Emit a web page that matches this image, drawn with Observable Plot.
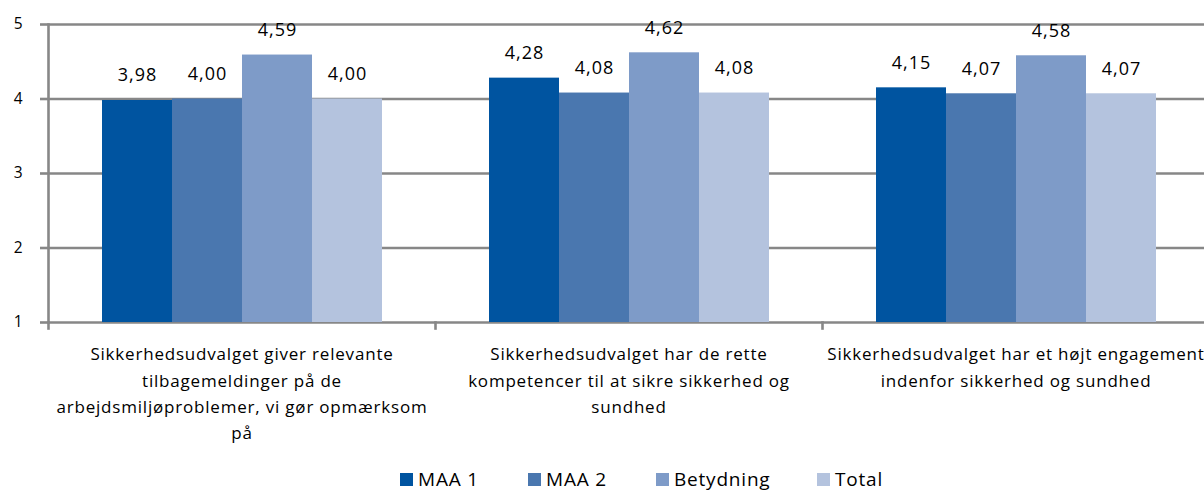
<!DOCTYPE html>
<html><head><meta charset="utf-8">
<script src="https://cdn.jsdelivr.net/npm/d3@7"></script>
<script src="https://cdn.jsdelivr.net/npm/@observablehq/plot@0.6"></script>
<style>
body{margin:0;background:#fff;font-family:"Open Sans",sans-serif;overflow:hidden;}
#chart svg{overflow:visible;}
#chart g[aria-label="fx-axis tick label"] text{letter-spacing:0.8px;}
#chart g[aria-label="text"] text{letter-spacing:1px;}
#legend{display:flex;align-items:center;padding-left:400px;height:48px;font-size:19px;color:#000;letter-spacing:0.8px;}
.item{display:flex;align-items:center;}
.sw{width:13px;height:13px;margin-right:5px;flex:none;}
</style></head><body>
<div id="chart"></div><div id="legend"></div>
<script>
const categories = [
  "Sikkerhedsudvalget giver relevante tilbagemeldinger på de arbejdsmiljøproblemer, vi gør opmærksom på",
  "Sikkerhedsudvalget har de rette kompetencer til at sikre sikkerhed og sundhed",
  "Sikkerhedsudvalget har et højt engagement indenfor sikkerhed og sundhed"
];
const categoryLabels = [
  "Sikkerhedsudvalget giver relevante\ntilbagemeldinger på de\narbejdsmiljøproblemer, vi gør opmærksom\npå",
  "Sikkerhedsudvalget har de rette\nkompetencer til at sikre sikkerhed og\nsundhed",
  "Sikkerhedsudvalget har et højt engagement\nindenfor sikkerhed og sundhed"
];
const series = ["MAA 1", "MAA 2", "Betydning", "Total"];
const maa1 = [3.98, 4.28, 4.15];
const maa2 = [4.00, 4.08, 4.07];
const betydning = [4.59, 4.62, 4.58];
const total = [4.00, 4.08, 4.07];
const yTicks = [1, 2, 3, 4, 5];
const colors = ["#0054a0", "#4a77af", "#7e9bc8", "#b4c3de"];

const valuesBySeries = [maa1, maa2, betydning, total];
const rows = [];
categories.forEach((c, i) => series.forEach((s, j) => rows.push({category: c, series: s, value: valuesBySeries[j][i]})));
const fmt = v => d3.format(".2f")(v).replace(".", ",");
const labelOf = c => categoryLabels[categories.indexOf(c)];
const gridColor = "#878787";

const chart = Plot.plot({
  width: 1204, height: 455,
  marginTop: 24, marginBottom: 133, marginLeft: 48, marginRight: 0,
  fx: {domain: categories, range: [48, 1209], paddingInner: 0, paddingOuter: 0, label: null},
  x: {domain: series, paddingInner: 0, paddingOuter: 0.745, axis: null},
  y: {domain: [1, 5], range: [322, 24], label: null},
  color: {domain: series, range: colors},
  style: {fontFamily: "'Open Sans', sans-serif", color: "#000", background: "#fff"},
  marks: [
    Plot.gridY(yTicks, {stroke: gridColor, strokeOpacity: 1, strokeWidth: 2.6}),
    Plot.barY(rows, {fx: "category", x: "series", y1: 1, y2: "value", fill: "series", inset: 0}),
    Plot.text(rows, {fx: "category", x: "series", y: "value", text: d => fmt(d.value), dy: -25, fontSize: 18, fill: "#000"}),
    Plot.frame({anchor: "left", facetAnchor: "left", stroke: gridColor, strokeWidth: 2.6}),
    Plot.frame({anchor: "left", stroke: gridColor, strokeWidth: 2.6, insetTop: 298, insetBottom: -6}),
    Plot.axisY(yTicks, {tickSize: 8, tickPadding: 18, fontSize: 15.5, stroke: gridColor, strokeWidth: 2.6, tickFormat: d => String(d), label: null}),
    Plot.axisFx({anchor: "bottom", tickSize: 0, tickPadding: 19, fontSize: 17, lineHeight: 1.55, tickFormat: labelOf, label: null})
  ]
});
document.getElementById("chart").appendChild(chart);

const widths = [128, 128, 161, null];
const legend = document.getElementById("legend");
series.forEach((s, i) => {
  const item = document.createElement("div");
  item.className = "item";
  if (widths[i]) item.style.width = widths[i] + "px";
  const sw = document.createElement("span");
  sw.className = "sw";
  sw.style.background = colors[i];
  const t = document.createElement("span");
  t.textContent = s;
  item.appendChild(sw); item.appendChild(t);
  legend.appendChild(item);
});
</script>
</body></html>
